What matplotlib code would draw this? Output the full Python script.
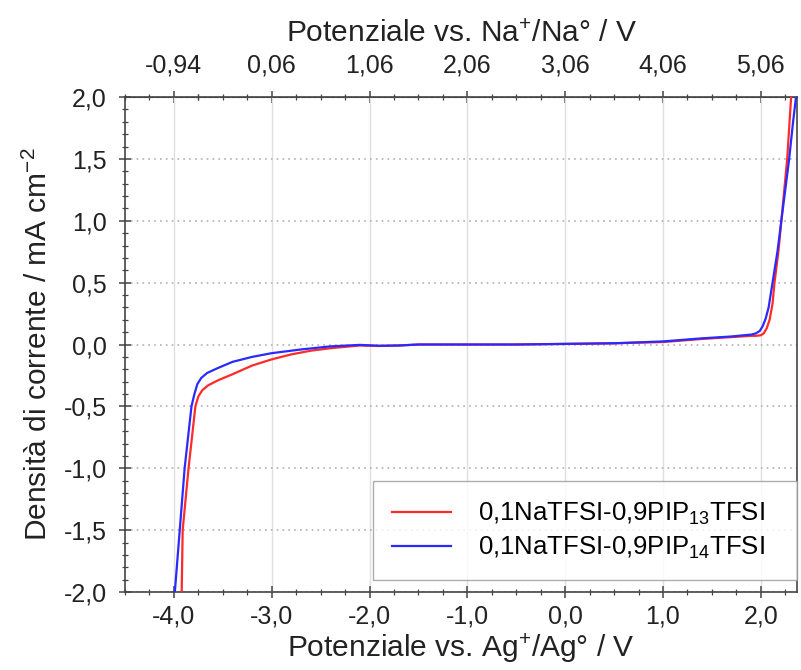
import matplotlib
matplotlib.use("Agg")
import matplotlib.pyplot as plt
from matplotlib.ticker import FixedLocator, MultipleLocator, FuncFormatter

plt.rcParams['font.family'] = ['Liberation Sans', 'DejaVu Sans']
plt.rcParams['mathtext.fontset'] = 'custom'
plt.rcParams['mathtext.rm'] = 'Liberation Sans'
plt.rcParams['mathtext.it'] = 'Liberation Sans:italic'
plt.rcParams['mathtext.bf'] = 'Liberation Sans:bold'

# Data (potential vs Ag+/Ag, current density mA cm^-2)
x_pip14 = [-3.99, -3.94, -3.89, -3.82, -3.79, -3.76, -3.72, -3.66, -3.55, -3.4, -3.2, -3.0,
           -2.7, -2.4, -2.1, -1.9, -1.7, -1.5, -1.0, -0.5, 0.0, 0.5, 1.0, 1.4, 1.7, 1.9,
           1.95, 1.99, 2.02, 2.05, 2.08, 2.12, 2.17, 2.21, 2.25, 2.29, 2.33, 2.36]
y_pip14 = [-2.0, -1.5, -1.0, -0.5, -0.4, -0.32, -0.27, -0.23, -0.19, -0.14, -0.1, -0.07,
           -0.04, -0.015, -0.003, -0.01, -0.008, 0.0, 0.0, 0.0, 0.005, 0.01, 0.025, 0.05, 0.065, 0.08,
           0.09, 0.11, 0.15, 0.21, 0.3, 0.5, 0.75, 1.0, 1.25, 1.5, 1.8, 2.0]

x_pip13 = [-3.92, -3.91, -3.85, -3.78, -3.75, -3.71, -3.65, -3.55, -3.4, -3.2, -3.0, -2.8,
           -2.6, -2.4, -2.1, -1.9, -1.7, -1.5, -1.0, -0.5, 0.0, 0.5, 1.0, 1.4, 1.7, 1.9,
           1.95, 2.0, 2.03, 2.06, 2.09, 2.12, 2.14, 2.18, 2.21, 2.24, 2.27, 2.29, 2.31]
y_pip13 = [-2.0, -1.5, -1.0, -0.5, -0.42, -0.37, -0.33, -0.29, -0.24, -0.17, -0.12, -0.08,
           -0.05, -0.03, -0.008, -0.012, -0.008, 0.0, 0.0, 0.0, 0.005, 0.01, 0.02, 0.045, 0.06, 0.07,
           0.07, 0.075, 0.09, 0.13, 0.2, 0.33, 0.5, 0.75, 1.0, 1.25, 1.5, 1.75, 2.0]

labels = ['0,1NaTFSI-0,9PIP$_{13}$TFSI', '0,1NaTFSI-0,9PIP$_{14}$TFSI']
x_ticks = [-4.0, -3.0, -2.0, -1.0, 0.0, 1.0, 2.0]
y_ticks = [-2.0, -1.5, -1.0, -0.5, 0.0, 0.5, 1.0, 1.5, 2.0]
na_offset = 3.06
top_ticks = [-0.94, 0.06, 1.06, 2.06, 3.06, 4.06, 5.06]

TICK_FS = 18
LABEL_FS = 21.5
LEG_FS = 18.5

fig = plt.figure(figsize=(8.01, 6.70), dpi=100)
ax = fig.add_axes([0.156, 0.1164, 0.839, 0.7388])

ax.plot(x_pip13, y_pip13, color='#ff2a2a', lw=1.6, label=labels[0], zorder=3)
ax.plot(x_pip14, y_pip14, color='#2a2aff', lw=1.6, label=labels[1], zorder=4)

ax.set_xlim(-4.5, 2.37)
ax.set_ylim(-2.0, 2.0)

comma = FuncFormatter(lambda v, p: f"{v:.1f}".replace('.', ','))
ax.xaxis.set_major_locator(FixedLocator(x_ticks))
ax.xaxis.set_minor_locator(MultipleLocator(0.25))
ax.yaxis.set_major_locator(FixedLocator(y_ticks))
ax.yaxis.set_minor_locator(MultipleLocator(0.1))
ax.xaxis.set_major_formatter(comma)
ax.yaxis.set_major_formatter(comma)

spine_c = '#444444'
for s in ax.spines.values():
    s.set_color(spine_c)
    s.set_linewidth(1.2)

ax.tick_params(axis='both', which='major', direction='inout', length=8, width=1.1,
               colors=spine_c, labelcolor='#222222', labelsize=TICK_FS)
ax.tick_params(axis='x', which='major', pad=5)
ax.tick_params(axis='y', which='major', pad=9)
ax.tick_params(axis='both', which='minor', direction='inout', length=4, width=0.9, colors=spine_c)
ax.tick_params(axis='y', right=False, which='both')
ax.tick_params(axis='x', top=False, which='both')

ax.xaxis.grid(True, which='major', color='#e0e0e0', lw=1.0, ls='-')
ax.yaxis.grid(True, which='major', color='#b0b0b0', lw=1.2, ls=(0, (1, 2.5)))
ax.set_axisbelow(True)

ax.set_xlabel('Potenziale vs. Ag$^{+}$/Ag° / V', fontsize=LABEL_FS, color='#222222', labelpad=2)
ax.set_ylabel('Densità di corrente / mA cm$^{-2}$', fontsize=LABEL_FS, color='#222222', labelpad=8)

top = ax.secondary_xaxis('top', functions=(lambda v: v + na_offset, lambda v: v - na_offset))
top.xaxis.set_major_locator(FixedLocator(top_ticks))
top.xaxis.set_minor_locator(FixedLocator([t + 0.25 * k for t in [-1.44, -0.94, 0.06, 1.06, 2.06, 3.06, 4.06, 5.06] for k in range(1, 4)] + [-1.44 + 0.0]))
top.xaxis.set_major_formatter(FuncFormatter(lambda v, p: f"{v:.2f}".replace('.', ',')))
top.tick_params(which='major', direction='inout', length=8, width=1.1, colors=spine_c,
                labelcolor='#222222', labelsize=TICK_FS, pad=10)
top.tick_params(which='minor', direction='inout', length=4, width=0.9, colors=spine_c)
top.spines['top'].set_color(spine_c)
top.set_xlabel('Potenziale vs. Na$^{+}$/Na° / V', fontsize=LABEL_FS, color='#222222', labelpad=8)

leg = ax.legend(loc='lower left', bbox_to_anchor=(0.369, 0.024, 0.631, 0.178), mode='expand',
                fontsize=LEG_FS, frameon=True,
                fancybox=False, edgecolor='#999999', handlelength=2.3, handletextpad=1.05,
                borderpad=0.75, labelspacing=0.3, borderaxespad=0.0)
leg.get_frame().set_linewidth(1.0)

fig.savefig('out.png', dpi=100)
